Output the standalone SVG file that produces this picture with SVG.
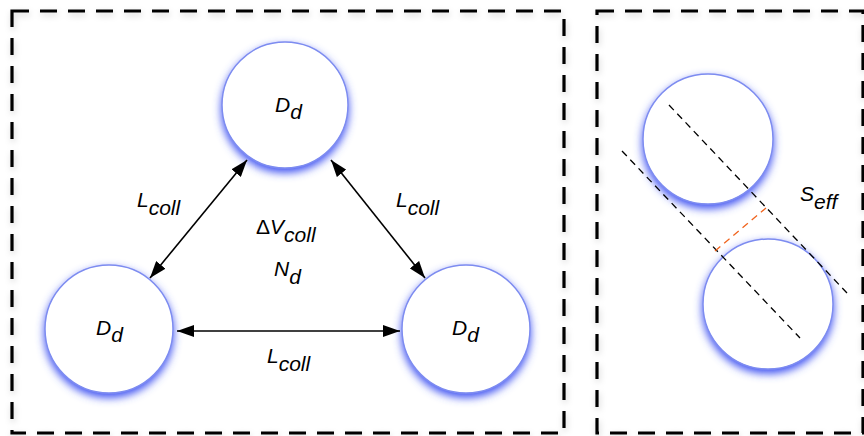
<svg xmlns="http://www.w3.org/2000/svg" width="864" height="436" viewBox="0 0 864 436">
<defs>
<style>
.frame{fill:none;stroke:#000;stroke-width:3.2;stroke-dasharray:17 11}
.circ{fill:#fff;stroke:#7d8cf0;stroke-width:1.5}
.lbl{font-family:"Liberation Sans",Arial,sans-serif;font-size:21px;font-style:italic;fill:#000}
.up{font-style:normal}
.arr{stroke:#000;stroke-width:1.6;fill:none;marker-start:url(#ah);marker-end:url(#ah)}
.dl{stroke:#000;stroke-width:1.3;stroke-dasharray:7 5;fill:none}
.ol{stroke:#f0641e;stroke-width:1.3;stroke-dasharray:7 5;fill:none}
</style>
<filter id="glow" x="-30%" y="-30%" width="160%" height="170%">
<feGaussianBlur in="SourceAlpha" stdDeviation="4.5"/>
<feOffset dy="4" result="b"/>
<feFlood flood-color="#3f52f2" flood-opacity="1"/>
<feComposite in2="b" operator="in"/>
<feMerge><feMergeNode/><feMergeNode in="SourceGraphic"/></feMerge>
</filter>
<filter id="fshadow" x="-5%" y="-5%" width="110%" height="110%">
<feGaussianBlur in="SourceAlpha" stdDeviation="3"/>
<feOffset dx="1" dy="3" result="b"/>
<feFlood flood-color="#000" flood-opacity="0.18"/>
<feComposite in2="b" operator="in"/>
<feMerge><feMergeNode/><feMergeNode in="SourceGraphic"/></feMerge>
</filter>
<marker id="ah" viewBox="0 0 17 12" refX="17" refY="6" markerWidth="17" markerHeight="12" markerUnits="userSpaceOnUse" orient="auto-start-reverse">
<path d="M0,0 L17,6 L0,12 z" fill="#000"/>
</marker>
</defs>
<rect width="864" height="436" fill="#fff"/>
<g id="frames" filter="url(#fshadow)">
<rect class="frame" x="12" y="11" width="552" height="422"/>
<rect class="frame" x="597" y="11" width="266" height="422"/>
</g>
<g id="node-top" filter="url(#glow)">
<circle class="circ" cx="285" cy="105" r="63"/>
</g>
<g id="node-left" filter="url(#glow)">
<circle class="circ" cx="109" cy="329" r="64"/>
</g>
<g id="node-right" filter="url(#glow)">
<circle class="circ" cx="466" cy="329" r="64"/>
</g>
<g id="node-r1" filter="url(#glow)">
<circle class="circ" cx="708" cy="139" r="65"/>
</g>
<g id="node-r2" filter="url(#glow)">
<circle class="circ" cx="768" cy="304" r="65"/>
</g>
<g id="connectors">
<line class="arr" x1="150" y1="278" x2="247" y2="160"/>
<line class="arr" x1="331" y1="160" x2="425" y2="278"/>
<line class="arr" x1="177" y1="331" x2="400" y2="331"/>
<line class="dl" x1="669" y1="105" x2="847" y2="293"/>
<line class="dl" x1="622" y1="151" x2="800" y2="338"/>
<line class="ol" x1="715" y1="251" x2="766" y2="208"/>
</g>
<g id="labels">
<text class="lbl" x="275" y="112">D<tspan dy="7">d</tspan></text>
<text class="lbl" x="96" y="335">D<tspan dy="7">d</tspan></text>
<text class="lbl" x="452" y="335">D<tspan dy="7">d</tspan></text>
<text class="lbl" x="137" y="207">L<tspan dy="8">coll</tspan></text>
<text class="lbl" x="396" y="207">L<tspan dy="8">coll</tspan></text>
<text class="lbl" x="267" y="363">L<tspan dy="8">coll</tspan></text>
<text class="lbl" x="256" y="234"><tspan class="up">Δ</tspan>V<tspan dy="8">coll</tspan></text>
<text class="lbl" x="274" y="276">N<tspan dy="8">d</tspan></text>
<text class="lbl" x="800" y="201">S<tspan dy="8">eff</tspan></text>
</g>
</svg>
